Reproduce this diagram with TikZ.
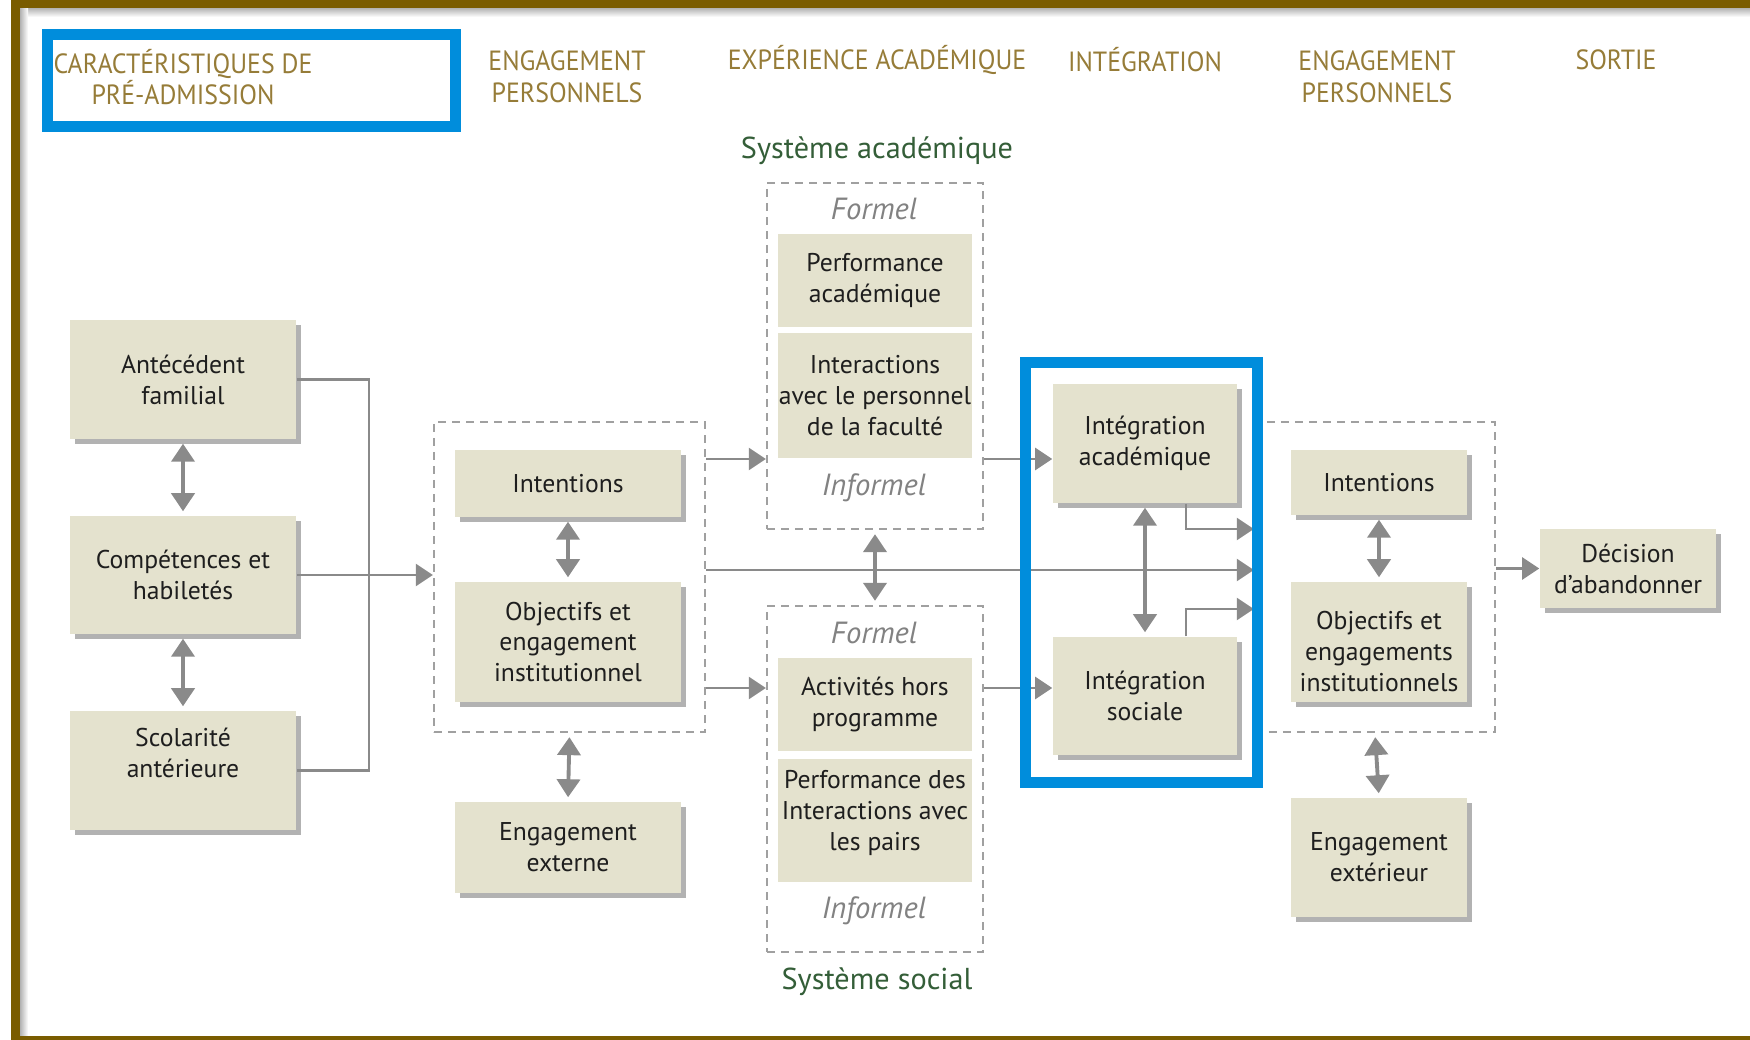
\documentclass[tikz,border=0pt]{standalone}
\usepackage{fontspec}
\setmainfont{PT Sans}
\newfontfamily\headfont[FakeStretch=0.93]{PT Sans}
\usepackage{tikz}
\usetikzlibrary{arrows.meta, shadows}

\definecolor{boxfill}{RGB}{228,226,206}
\definecolor{headcol}{RGB}{150,124,56}
\definecolor{syscol}{RGB}{52,94,56}
\definecolor{linegray}{RGB}{138,138,138}
\definecolor{dashgray}{RGB}{160,160,160}
\definecolor{itgray}{RGB}{130,130,130}
\definecolor{txt}{RGB}{30,30,30}
\definecolor{hiblue}{RGB}{0,141,220}
\definecolor{frame}{RGB}{122,92,0}

\begin{document}
\begin{tikzpicture}[x=0.01cm, y=-0.01cm,
		box/.style={fill=boxfill, align=center, inner sep=0pt, text=txt, font=\fontsize{7.3}{8.8}\selectfont},
		shbox/.style={box, drop shadow={shadow xshift=0.05cm, shadow yshift=-0.05cm, fill=black, opacity=0.3}},
		dashbox/.style={draw=dashgray, line width=0.6pt, dash pattern=on 0.08cm off 0.06cm, inner sep=0pt},
		head/.style={align=center, text=headcol, font=\headfont\fontsize{7.9}{9}\selectfont},
		sys/.style={text=syscol, font=\fontsize{8.6}{10}\selectfont},
		inf/.style={text=itgray, font=\itshape\fontsize{8.7}{10}\selectfont},
		link/.style={draw=linegray, line width=0.7pt},
		arr/.style={link, -{Triangle[length=0.17cm, width=0.22cm]}},
		dbl/.style={link, line width=1.1pt, {Triangle[length=0.18cm, width=0.23cm]}-{Triangle[length=0.18cm, width=0.23cm]}, shorten <=0.04cm, shorten >=0.04cm},
		hilite/.style={draw=hiblue, line width=0.11cm}
	]
	\useasboundingbox (0,0) rectangle (1750,1040);

	\shade[top color=black!30, bottom color=white] (20,8) rectangle (1750,17);
	\shade[left color=black!30, right color=white] (20,8) rectangle (28,1036);
	\fill[frame] (11,0) rectangle (1750,8);
	\fill[frame] (11,0) rectangle (20,1040);
	\fill[frame] (11,1036) rectangle (1750,1040);

	\node[head] (h1) at (183,77) {CARACTÉRISTIQUES DE\\PRÉ-ADMISSION};
	\node[head] (h2) at (567,77) {ENGAGEMENT\\PERSONNELS};
	\node[head] (h3) at (877,60) {EXPÉRIENCE ACADÉMIQUE};
	\node[head] (h4) at (1145,60) {INTÉGRATION};
	\node[head] (h5) at (1377,77) {ENGAGEMENT\\PERSONNELS};
	\node[head] (h6) at (1616,60) {SORTIE};

	\node[dashbox, minimum width=2.71cm, minimum height=3.10cm] (dash1) at (569.5,577) {};
	\node[dashbox, minimum width=2.16cm, minimum height=3.46cm] (acadbox) at (875,356) {};
	\node[dashbox, minimum width=2.16cm, minimum height=3.46cm] (socbox) at (875,779) {};
	\node[dashbox, minimum width=2.40cm, minimum height=3.10cm] (dash2) at (1375,577) {};

	\node[sys] (sysA) at (877,151) {Système académique};
	\node[sys] (sysS) at (877,982) {Système social};
	\node[inf] (form1) at (874,209) {Formel};
	\node[inf] (inf1) at (874,488) {Informel};
	\node[inf] (form2) at (874,633) {Formel};
	\node[inf] (inf2) at (874,911) {Informel};

	\node[shbox, minimum width=2.26cm, minimum height=1.19cm] (antec) at (183,379.5) {Antécédent\\familial};
	\node[shbox, minimum width=2.26cm, minimum height=1.18cm] (compet) at (183,575) {Compétences et\\habiletés};
	\node[shbox, minimum width=2.26cm, minimum height=1.19cm, text depth=0.35cm] (scol) at (183,770.5) {Scolarité\\antérieure};

	\node[shbox, minimum width=2.26cm, minimum height=0.67cm] (intL) at (568,483.5) {Intentions};
	\node[shbox, minimum width=2.26cm, minimum height=1.20cm] (objL) at (568,642) {Objectifs et\\engagement\\institutionnel};
	\node[shbox, minimum width=2.26cm, minimum height=0.91cm] (extL) at (568,847.5) {Engagement\\externe};

	\node[box, minimum width=1.94cm, minimum height=0.93cm] (perfA) at (875,280.5) {Performance\\académique};
	\node[box, minimum width=1.94cm, minimum height=1.25cm] (interF) at (875,395.5) {Interactions\\avec le personnel\\de la faculté};
	\node[box, minimum width=1.94cm, minimum height=0.93cm] (activ) at (875,704.5) {Activités hors\\programme};
	\node[box, minimum width=1.94cm, minimum height=1.23cm, text depth=0.21cm] (perfP) at (875,820.5) {Performance des\\Interactions avec\\les pairs};

	\node[shbox, minimum width=1.84cm, minimum height=1.19cm] (intA) at (1145,443.5) {Intégration\\académique};
	\node[shbox, minimum width=1.84cm, minimum height=1.18cm] (intS) at (1145,696) {Intégration\\sociale};

	\node[shbox, minimum width=1.76cm, minimum height=0.65cm] (intR) at (1379,482.5) {Intentions};
	\node[shbox, minimum width=1.76cm, minimum height=1.20cm, text height=1.0cm] (objR) at (1379,642) {Objectifs et\\engagements\\institutionnels};
	\node[shbox, minimum width=1.76cm, minimum height=1.19cm] (extR) at (1379,857.5) {Engagement\\extérieur};
	\node[shbox, minimum width=1.76cm, minimum height=0.79cm] (dec) at (1628,568.5) {Décision\\d’abandonner};

	\coordinate (ya) at (0,459);
	\coordinate (yb) at (0,688);
	\coordinate (yc) at (0,570);
	\coordinate (yd) at (0,529);
	\coordinate (ye) at (0,609);
	\coordinate (xk) at (1186,0);

	\draw[dbl] (antec) -- (compet);
	\draw[dbl] (compet) -- (scol);
	\draw[link] (antec.east) -- ++(72,0) |- (scol.east);
	\draw[arr] (compet.east) -- (dash1.west |- compet.east);

	\draw[dbl] (intL) -- (objL);
	\draw[dbl] (dash1.south) -- (extL.north);

	\draw[arr] (dash1.east |- ya) -- (acadbox.west |- ya);
	\draw[arr] (dash1.east |- yb) -- (socbox.west |- yb);
	\draw[arr] (dash1.east |- yc) -- (dash2.west |- yc);
	\draw[dbl] (acadbox.south) -- (socbox.north);

	\draw[arr] (acadbox.east |- ya) -- (intA.west |- ya);
	\draw[arr] (socbox.east |- yb) -- (intS.west |- yb);
	\draw[dbl] (intA) -- (intS);
	\draw[arr] (xk |- intA.south) |- (dash2.west |- yd);
	\draw[arr] (xk |- intS.north) |- (dash2.west |- ye);

	\draw[dbl] (intR) -- (objR);
	\draw[dbl] (dash2.south) -- (extR.north);
	\draw[arr] (dash2.east |- dec.west) -- (dec.west);

	\draw[hilite] (47.5,34.5) rectangle (455.5,126.5);
	\draw[hilite] (1025.5,362.5) rectangle (1257.5,782.5);
\end{tikzpicture}
\end{document}
